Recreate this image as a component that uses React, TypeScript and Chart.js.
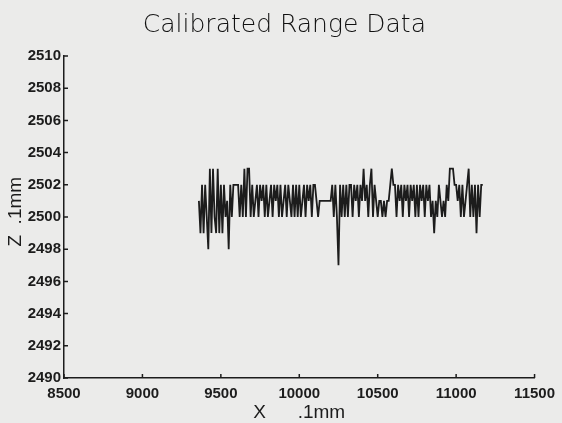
import React, { useEffect, useRef } from "react";
import { Chart, registerables } from "chart.js";

Chart.register(...registerables);

const titleText = "    Calibrated Range Data";
const xAxisTitle = "X      .1mm";
const yAxisTitle = "  Z  .1mm";

const xTicks = [8500, 9000, 9500, 10000, 10500, 11000, 11500];
const yTicks = [2490, 2492, 2494, 2496, 2498, 2500, 2502, 2504, 2506, 2508, 2510];

const xValues = [
  9360, 9370, 9380, 9390, 9400, 9410, 9420, 9430, 9440, 9450,
  9460, 9470, 9480, 9490, 9500, 9510, 9520, 9530, 9540, 9550,
  9560, 9570, 9580, 9590, 9600, 9610, 9620, 9630, 9640, 9650,
  9660, 9670, 9680, 9690, 9700, 9710, 9720, 9730, 9740, 9750,
  9760, 9770, 9780, 9790, 9800, 9810, 9820, 9830, 9840, 9850,
  9860, 9870, 9880, 9890, 9900, 9910, 9920, 9930, 9940, 9950,
  9960, 9970, 9980, 9990, 10000, 10010, 10020, 10030, 10040, 10050,
  10060, 10070, 10080, 10090, 10100, 10110, 10120, 10130, 10140, 10150,
  10160, 10170, 10180, 10190, 10200, 10210, 10220, 10230, 10240, 10250,
  10260, 10270, 10280, 10290, 10300, 10310, 10320, 10330, 10340, 10350,
  10360, 10370, 10380, 10390, 10400, 10410, 10420, 10430, 10440, 10450,
  10460, 10470, 10480, 10490, 10500, 10510, 10520, 10530, 10540, 10550,
  10560, 10570, 10580, 10590, 10600, 10610, 10620, 10630, 10640, 10650,
  10660, 10670, 10680, 10690, 10700, 10710, 10720, 10730, 10740, 10750,
  10760, 10770, 10780, 10790, 10800, 10810, 10820, 10830, 10840, 10850,
  10860, 10870, 10880, 10890, 10900, 10910, 10920, 10930, 10940, 10950,
  10960, 10970, 10980, 10990, 11000, 11010, 11020, 11030, 11040, 11050,
  11060, 11070, 11080, 11090, 11100, 11110, 11120, 11130, 11140, 11150,
  11160, 11170,
];

const zValues = [
  2501, 2499, 2502, 2499, 2502, 2500, 2498, 2503, 2499, 2503,
  2500, 2499, 2503, 2499, 2502, 2499, 2502, 2500, 2501, 2498,
  2502, 2500, 2502, 2502, 2502, 2502, 2500, 2502, 2500, 2503,
  2500, 2503, 2503, 2500, 2502, 2500, 2501, 2502, 2500, 2502,
  2501, 2502, 2500, 2502, 2500, 2501, 2502, 2500, 2502, 2501,
  2502, 2500, 2502, 2500, 2501, 2502, 2500, 2502, 2501, 2500,
  2502, 2500, 2502, 2500, 2502, 2500, 2501, 2502, 2500, 2502,
  2501, 2502, 2500, 2502, 2502, 2501, 2500, 2501, 2501, 2501,
  2501, 2501, 2501, 2501, 2501, 2502, 2500, 2502, 2500, 2497,
  2502, 2500, 2502, 2500, 2502, 2500, 2502, 2502, 2500, 2502,
  2501, 2502, 2500, 2502, 2501, 2503, 2501, 2502, 2500, 2502,
  2503, 2500, 2502, 2501, 2500, 2501, 2501, 2500, 2501, 2500,
  2501, 2501, 2502, 2503, 2502, 2502, 2500, 2502, 2501, 2502,
  2500, 2502, 2501, 2502, 2500, 2502, 2501, 2502, 2500, 2502,
  2500, 2502, 2501, 2502, 2500, 2502, 2501, 2502, 2500, 2501,
  2499, 2501, 2500, 2502, 2501, 2500, 2501, 2500, 2502, 2501,
  2503, 2503, 2503, 2502, 2502, 2501, 2502, 2500, 2502, 2500,
  2501, 2502, 2503, 2500, 2502, 2500, 2502, 2499, 2502, 2500,
  2502, 2502,
];

const INK = "#1c1c1c";
const PAPER = "#ebebea";

const paperPlugin = {
  id: "paper",
  beforeDraw(chart: any) {
    const ctx = chart.ctx;
    ctx.save();
    ctx.fillStyle = PAPER;
    ctx.fillRect(0, 0, chart.width, chart.height);
    ctx.restore();
  },
};

const inwardTicksPlugin = {
  id: "inwardTicks",
  afterDraw(chart: any) {
    const ctx = chart.ctx;
    const xs = chart.scales.x;
    const ys = chart.scales.y;
    const area = chart.chartArea;
    ctx.save();
    ctx.strokeStyle = INK;
    ctx.lineWidth = 1.5;
    ctx.beginPath();
    xs.ticks.forEach((t: any) => {
      const px = xs.getPixelForValue(t.value);
      ctx.moveTo(px, area.bottom);
      ctx.lineTo(px, area.bottom - 4);
    });
    ys.ticks.forEach((t: any) => {
      const py = ys.getPixelForValue(t.value);
      ctx.moveTo(area.left, py);
      ctx.lineTo(area.left + 4, py);
    });
    ctx.stroke();
    ctx.restore();
  },
};

export default function App() {
  const ref = useRef<HTMLCanvasElement | null>(null);

  useEffect(() => {
    document.body.style.margin = "0";
    document.body.style.background = PAPER;
    const canvas = ref.current;
    if (!canvas) return;
    const data = xValues.map((x, i) => ({ x, y: zValues[i] }));
    const tickFont = { family: "'Liberation Sans', Arial, sans-serif", size: 15, weight: "bold" as const };
    const axisTitleFont = { family: "'Liberation Sans', Arial, sans-serif", size: 19, lineHeight: 1.2 };
    const chart = new Chart(canvas, {
      type: "line",
      data: {
        datasets: [
          {
            data,
            borderColor: INK,
            borderWidth: 1.8,
            pointRadius: 0,
            tension: 0,
            fill: false,
          },
        ],
      },
      options: {
        animation: false,
        responsive: false,
        maintainAspectRatio: false,
        parsing: false as any,
        layout: { padding: { left: 0, right: 25, top: 0, bottom: 0 } },
        plugins: {
          legend: { display: false },
          tooltip: { enabled: false },
          title: {
            display: true,
            text: titleText,
            color: "#111111",
            font: { family: "'DejaVu Sans', sans-serif", size: 25, weight: 300 as any, lineHeight: 1.2 },
            padding: { top: 10, bottom: 16 },
          },
        },
        scales: {
          x: {
            type: "linear",
            min: 8500,
            max: 11500,
            afterBuildTicks(scale: any) {
              scale.ticks = xTicks.map((v) => ({ value: v }));
            },
            afterFit(scale: any) {
              scale.height = 45;
            },
            grid: { display: false, drawTicks: false },
            border: { display: true, color: INK, width: 1.5 },
            ticks: {
              color: INK,
              font: tickFont,
              padding: 7,
              maxRotation: 0,
              autoSkip: false,
              callback: (v: any) => String(v),
            },
            title: {
              display: true,
              text: xAxisTitle,
              color: INK,
              font: axisTitleFont,
              padding: { top: 0, bottom: -1 },
            },
          },
          y: {
            type: "linear",
            min: 2490,
            max: 2510,
            afterBuildTicks(scale: any) {
              scale.ticks = yTicks.map((v) => ({ value: v }));
            },
            afterFit(scale: any) {
              scale.width = 64;
            },
            grid: { display: false, drawTicks: false },
            border: { display: true, color: INK, width: 1.5 },
            ticks: {
              color: INK,
              font: tickFont,
              padding: 3,
              autoSkip: false,
              callback: (v: any) => String(v),
            },
            title: {
              display: true,
              text: yAxisTitle,
              color: INK,
              font: axisTitleFont,
              padding: { top: 4, bottom: 0 },
            },
          },
        },
      },
      plugins: [paperPlugin, inwardTicksPlugin],
    });
    return () => chart.destroy();
  }, []);

  return (
    <div style={{ width: 562, height: 423 }}>
      <canvas ref={ref} width={562} height={423} style={{ display: "block", width: 562, height: 423 }} />
    </div>
  );
}
